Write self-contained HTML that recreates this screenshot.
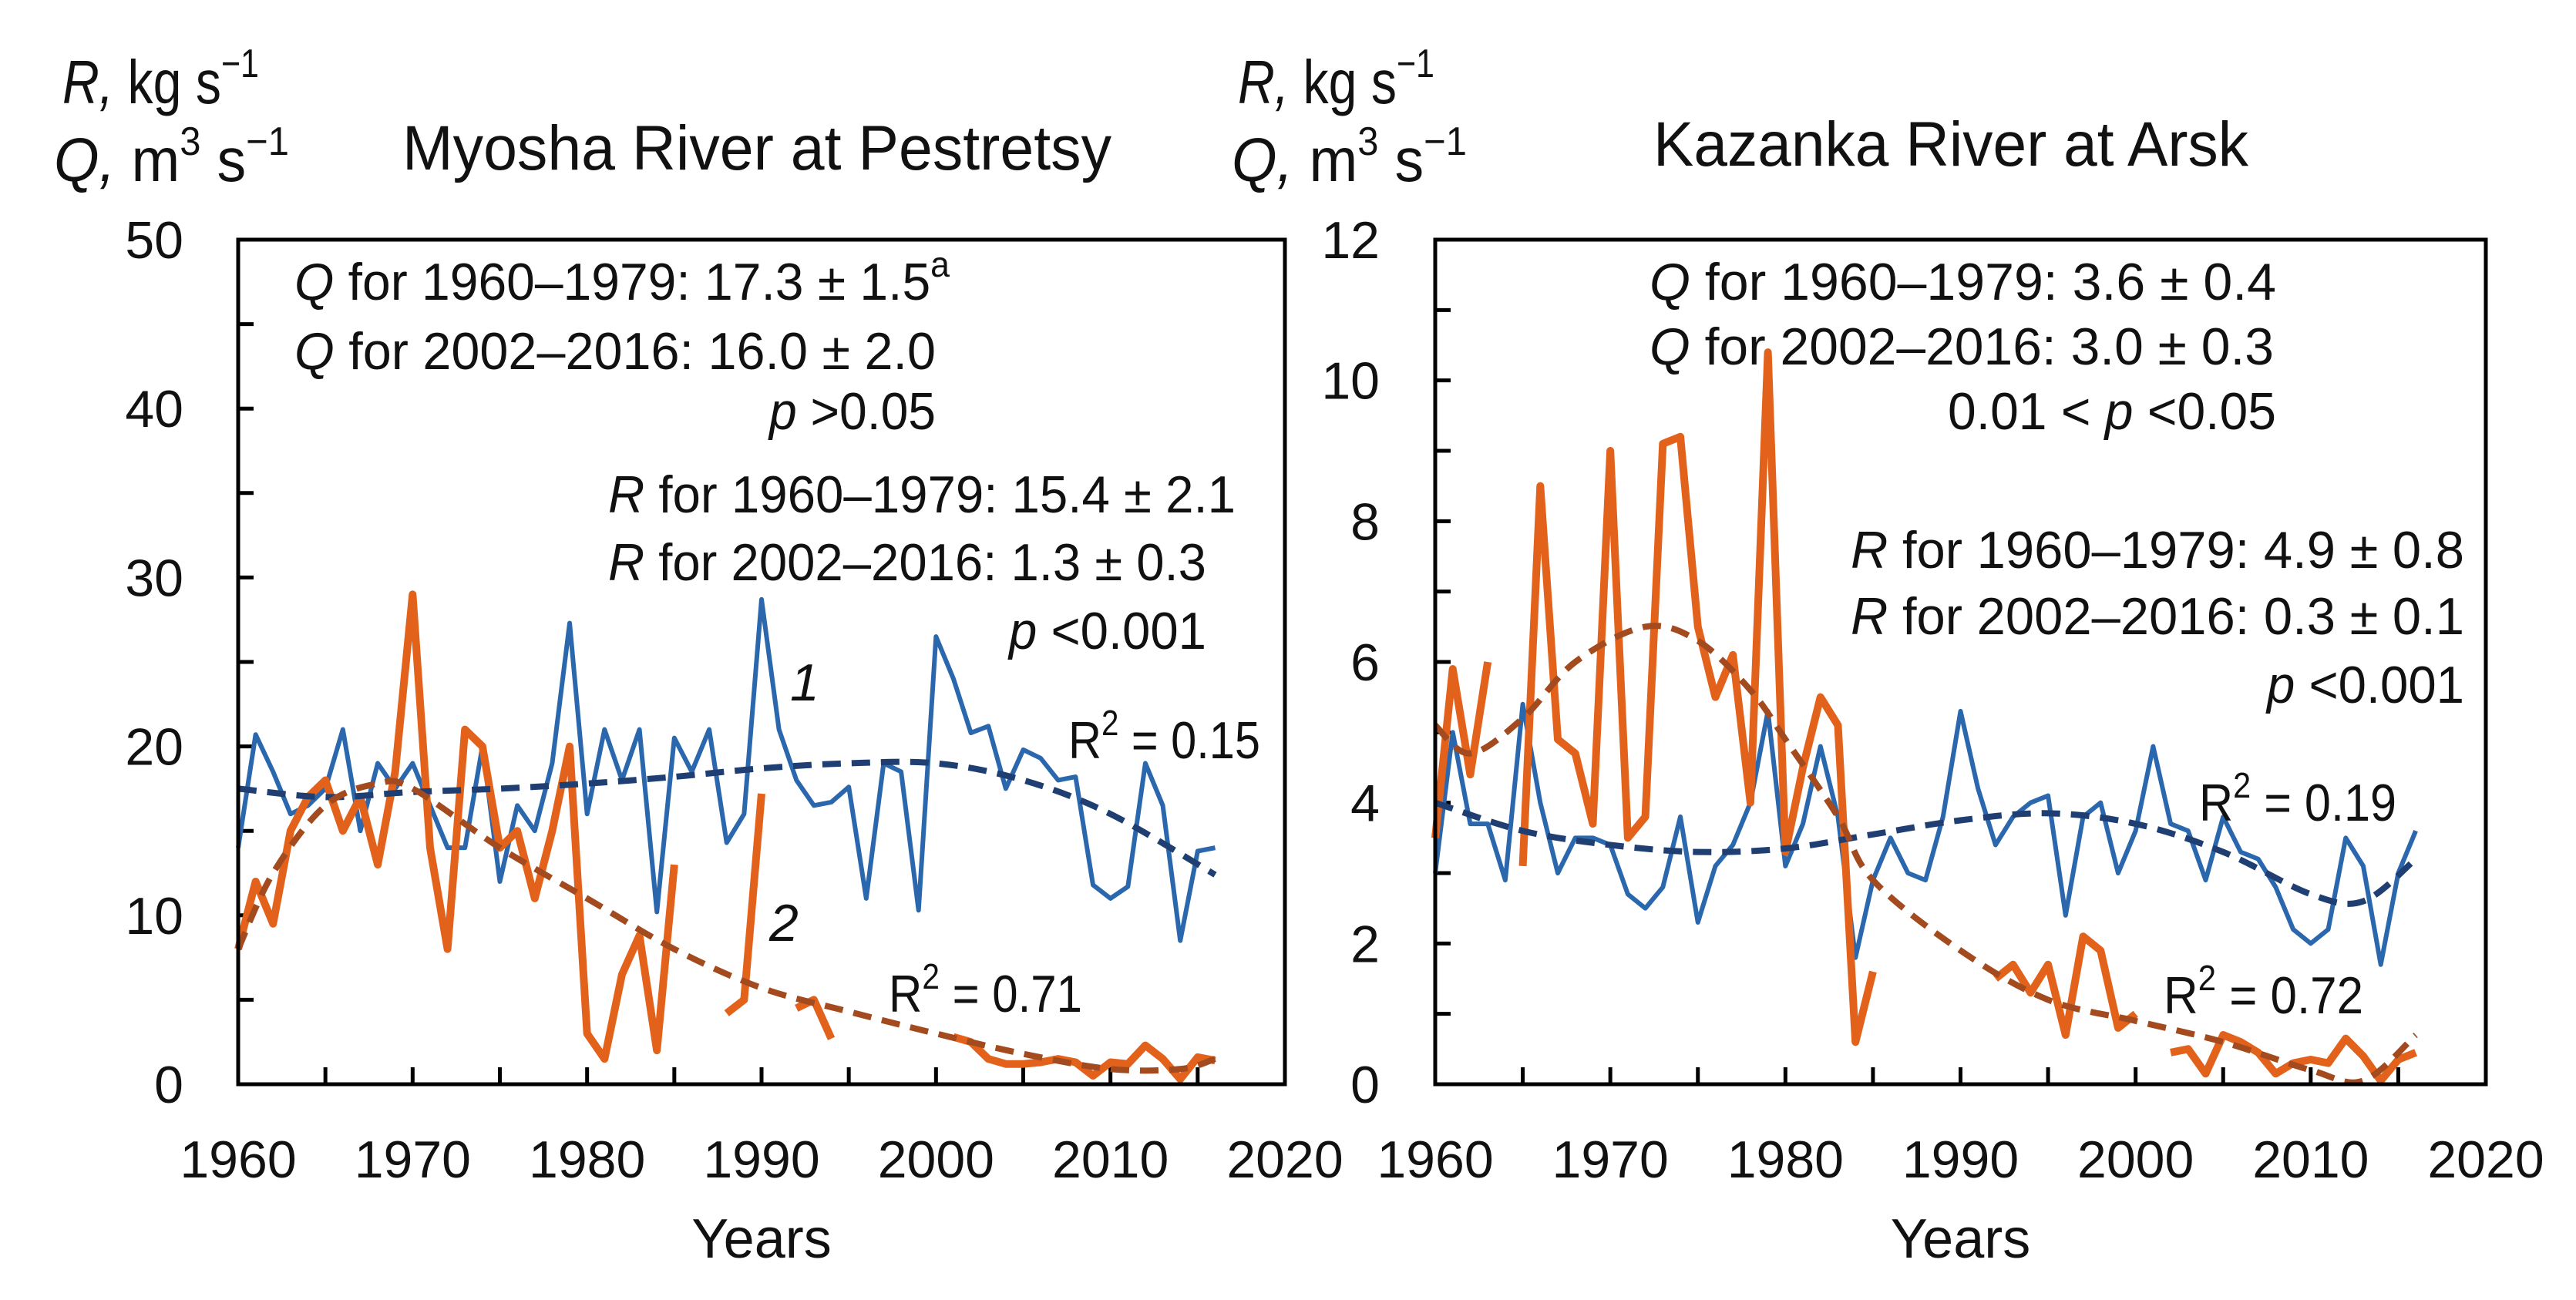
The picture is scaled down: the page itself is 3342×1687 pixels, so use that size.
<!DOCTYPE html>
<html><head><meta charset="utf-8"><style>
html,body{margin:0;padding:0;background:#fff}
svg{display:block}
text{font-family:"Liberation Sans",sans-serif;fill:#111}
</style></head><body>
<svg id="chart" width="3342" height="1687" viewBox="0 0 3342 1687" xmlns="http://www.w3.org/2000/svg">
<rect width="3342" height="1687" fill="#fff"/>
<g id="left"></g>
<g id="right"></g>
</svg>
<script>
// ---- data: Myosha River at Pestretsy ----
const years = [];
for (let y = 1960; y <= 2016; y++) years.push(y);
const myoshaQ = [14,20.7,18.5,16,16.5,17.5,21,15,19,17.5,19,16.5,14,14,20,12,16.5,15,19,27.3,16,21,18,21,10.2,20.5,18.5,21,14.3,16,28.7,21,18,16.5,16.7,17.6,11,19,18.5,10.3,26.5,24,20.8,21.2,17.5,19.8,19.3,18,18.2,11.8,11,11.7,19,16.5,8.5,13.8,14];
const myoshaRYears = [[1960,1961,1962,1963,1964,1965,1966,1967,1968,1969,1970,1971,1972,1973,1974,1975,1976,1977,1978,1979,1980,1981,1982,1983,1984,1985],[1988,1989,1990],[1992,1993,1994],[2001,2002,2003,2004,2005,2006,2007,2008,2009,2010,2011,2012,2013,2014,2015,2016]];
const myoshaR = [[8,12,9.5,15,17,18,15,17,13,18.5,29,14,8,21,20,14,15,11,15,20,3,1.5,6.5,8.8,2,13],[4.2,5,17.2],[4.5,5,2.7],[2.8,2.5,1.5,1.2,1.2,1.3,1.5,1.3,0.5,1.3,1.2,2.3,1.5,0.3,1.6,1.4]];
const myoshaTrendYears = [1960,1962,1965,1968,1970,1975,1980,1985,1990,1995,2000,2005,2010,2014,2016];
const myoshaRTrend = [8,12.5,16.5,17.8,17.5,14,11,8,5.7,4.3,3,1.8,0.9,0.9,1.5];
const myoshaQTrendYears = [1960,1965,1970,1975,1980,1985,1990,1995,2000,2005,2010,2016];
const myoshaQTrend = [17.5,17,17.3,17.5,17.8,18.2,18.7,19,19,18,16,12.4];
const leftYTicks = [0,10,20,30,40,50];
// ---- data: Kazanka River at Arsk ----
const kazankaQ = [3.0,5.0,3.7,3.7,2.9,5.4,4.0,3.0,3.5,3.5,3.4,2.7,2.5,2.8,3.8,2.3,3.1,3.4,4.0,5.3,3.1,3.7,4.8,3.8,1.8,2.9,3.5,3.0,2.9,3.8,5.3,4.2,3.4,3.8,4.0,4.1,2.4,3.8,4.0,3.0,3.6,4.8,3.7,3.6,2.9,3.8,3.3,3.2,2.8,2.2,2.0,2.2,3.5,3.1,1.7,3.0,3.6];
const kazankaRYears = [[1960,1961,1962,1963],[1965,1966,1967,1968,1969,1970,1971,1972,1973,1974,1975,1976,1977,1978,1979,1980,1981,1982,1983,1984,1985],[1992,1993,1994,1995,1996,1997,1998,1999,2000],[2002,2003,2004,2005,2006,2007,2008,2009,2010,2011,2012,2013,2014,2015,2016]];
const kazankaR = [[3.5,5.9,4.4,6.0],[3.1,8.5,4.9,4.7,3.7,9.0,3.5,3.8,9.1,9.2,6.5,5.5,6.1,4.0,10.4,3.3,4.5,5.5,5.1,0.6,1.6],[1.5,1.7,1.3,1.7,0.7,2.1,1.9,0.8,1.0],[0.45,0.5,0.15,0.7,0.6,0.45,0.15,0.3,0.35,0.3,0.65,0.4,0.05,0.35,0.45]];
const kazankaRTrendYears = [1960,1962,1965,1968,1972,1975,1978,1980,1983,1985,1990,1995,2000,2005,2010,2013,2016];
const kazankaRTrend = [5.1,4.7,5.2,6.0,6.5,6.3,5.6,4.9,3.8,2.9,1.9,1.2,0.9,0.6,0.2,0.05,0.7];
const kazankaQTrendYears = [1960,1965,1970,1975,1980,1985,1990,1995,2000,2005,2010,2013,2016];
const kazankaQTrend = [4.0,3.6,3.4,3.3,3.35,3.55,3.75,3.85,3.7,3.3,2.7,2.6,3.2];
const rightYTicks = [0,2,4,6,8,10,12];
const xTicks = [1960,1970,1980,1990,2000,2010,2020];

const NS = "http://www.w3.org/2000/svg";
function mk(parent, tag, attrs, txt) {
  const e = document.createElementNS(NS, tag);
  for (const k in attrs) e.setAttribute(k, attrs[k]);
  if (txt !== undefined) e.textContent = txt;
  parent.appendChild(e);
  return e;
}
function smooth(pts) {
  let d = "M" + pts[0][0] + "," + pts[0][1];
  for (let i = 0; i < pts.length - 1; i++) {
    const p0 = pts[i - 1] || pts[i], p1 = pts[i], p2 = pts[i + 1], p3 = pts[i + 2] || p2;
    const c1x = p1[0] + (p2[0] - p0[0]) / 6, c1y = p1[1] + (p2[1] - p0[1]) / 6;
    const c2x = p2[0] - (p3[0] - p1[0]) / 6, c2y = p2[1] - (p3[1] - p1[1]) / 6;
    d += " C" + c1x + "," + c1y + " " + c2x + "," + c2y + " " + p2[0] + "," + p2[1];
  }
  return d;
}

function panel(g, cfg) {
  const X0 = cfg.x0, X1 = cfg.x1, Y0 = 311, Y1 = 1407;
  const xs = yr => X0 + (yr - 1960) / 60 * (X1 - X0);
  const ys = v => Y1 - v / cfg.ymax * (Y1 - Y0);
  for (let yr = 1965; yr < 2020; yr += 5) {
    const t = mk(g, "line", {x1: xs(yr), x2: xs(yr), y1: Y1, y2: Y1 - 22, stroke: "#000", "stroke-width": 5});
    
    
  }
  const step = cfg.yTicks[1] - cfg.yTicks[0];
  for (let v = step / 2; v < cfg.ymax; v += step / 2) {
    const t = mk(g, "line", {x1: X0, x2: X0 + 20, y1: ys(v), y2: ys(v), stroke: "#000", "stroke-width": 5});
    
    
  }
  cfg.yTicks.forEach(v => {
    const t = mk(g, "text", {x: cfg.ylabX, y: ys(v) + 24, "text-anchor": "end", "font-size": 68}, String(v));
    
    
  });
  xTicks.forEach(yr => {
    const t = mk(g, "text", {x: xs(yr), y: 1528, "text-anchor": "middle", "font-size": 68}, String(yr));
    
    
  });
  const xt = mk(g, "text", {x: (X0 + X1) / 2, y: 1632, "text-anchor": "middle", "font-size": 72}, "Years");
  
  

  const qd = years.map((yr, i) => (i ? "L" : "M") + xs(yr) + "," + ys(cfg.q[i])).join(" ");
  const qp = mk(g, "path", {d: qd, fill: "none", stroke: "#2b67ad", "stroke-width": 6, "stroke-linejoin": "round"});
  
  
  cfg.rYears.forEach((seg, s) => {
    const d = seg.map((yr, i) => (i ? "L" : "M") + xs(yr) + "," + ys(cfg.r[s][i])).join(" ");
    const p = mk(g, "path", {d: d, fill: "none", stroke: "#e2621b", "stroke-width": 10, "stroke-linejoin": "round"});
    
    
  });
  const qt = mk(g, "path", {d: smooth(cfg.qtY.map((yr, i) => [xs(yr), ys(cfg.qt[i])])), fill: "none", stroke: "#1f3f73", "stroke-width": 8, "stroke-dasharray": "24,14"});
  
  
  const rt = mk(g, "path", {d: smooth(cfg.rtY.map((yr, i) => [xs(yr), ys(cfg.rt[i])])), fill: "none", stroke: "#a34a1f", "stroke-width": 8, "stroke-dasharray": "24,14"});
  
  
  const fr = mk(g, "rect", {x: X0, y: Y0, width: X1 - X0, height: Y1 - Y0, fill: "none", stroke: "#000", "stroke-width": 5});
  
  
}

const L = document.getElementById("left"), R = document.getElementById("right");
panel(L, {x0: 309, x1: 1667, ymax: 50, yTicks: leftYTicks, ylabX: 238, q: myoshaQ, rYears: myoshaRYears, r: myoshaR, qtY: myoshaQTrendYears, qt: myoshaQTrend, rtY: myoshaTrendYears, rt: myoshaRTrend});
panel(R, {x0: 1862, x1: 3225, ymax: 12, yTicks: rightYTicks, ylabX: 1790, q: kazankaQ, rYears: kazankaRYears, r: kazankaR, qtY: kazankaQTrendYears, qt: kazankaQTrend, rtY: kazankaRTrendYears, rt: kazankaRTrend});

function label(g, name, x, y, html, size, len, anchor) {
  const t = mk(g, "text", {x: x, y: y, "font-size": size, "text-anchor": anchor || "start"});
  t.innerHTML = html;
  if (len) { t.setAttribute("textLength", len); t.setAttribute("lengthAdjust", "spacingAndGlyphs"); }
  
  
  return t;
}
const sup = s => '<tspan dy="-30" font-size="46">' + s + '</tspan><tspan dy="30"> </tspan>';
const supEnd = s => '<tspan dy="-30" font-size="46">' + s + '</tspan>';
const sup2 = s => '<tspan dy="-34" font-size="52">' + s + '</tspan><tspan dy="34"> </tspan>';
const supEnd2 = s => '<tspan dy="-34" font-size="52">' + s + '</tspan>';
const A = 68;
// Left annotations
label(L, "y-axis-title-r", 81, 134, '<tspan font-style="italic">R,</tspan> kg s' + supEnd2('−1'), 80, 255);
label(L, "y-axis-title-q", 70, 235, '<tspan font-style="italic">Q,</tspan> m' + sup2('3') + 's' + supEnd2('−1'), 80, 305);
label(L, "chart-title", 522, 220, 'Myosha River at Pestretsy', 82, 920);
label(L, "q-stat-1960", 382, 389, '<tspan font-style="italic">Q</tspan> for 1960–1979: 17.3 ± 1.5' + supEnd('a'), A, 850);
label(L, "q-stat-2002", 382, 479, '<tspan font-style="italic">Q</tspan> for 2002–2016: 16.0 ± 2.0', A, 832);
label(L, "q-p-value", 1214, 557, '<tspan font-style="italic">p</tspan> &gt;0.05', A, 216, "end");
label(L, "r-stat-1960", 789, 665, '<tspan font-style="italic">R</tspan> for 1960–1979: 15.4 ± 2.1', A, 814);
label(L, "r-stat-2002", 789, 753, '<tspan font-style="italic">R</tspan> for 2002–2016: 1.3 ± 0.3', A, 776);
label(L, "r-p-value", 1565, 842, '<tspan font-style="italic">p</tspan> &lt;0.001', A, 256, "end");
label(L, "series-label-1", 1025, 909, '1', 68, null);
L.lastChild.setAttribute("font-style", "italic"); L.lastChild.setAttribute("font-family", "Liberation Serif");
label(L, "series-label-2", 998, 1221, '2', 68, null);
L.lastChild.setAttribute("font-style", "italic"); L.lastChild.setAttribute("font-family", "Liberation Serif");
label(L, "q-r-squared", 1386, 984, 'R' + sup('2') + '= 0.15', A, 249);
label(L, "r-r-squared", 1153, 1313, 'R' + sup('2') + '= 0.71', A, 251);
// Right annotations
label(R, "y-axis-title-r", 1606, 134, '<tspan font-style="italic">R,</tspan> kg s' + supEnd2('−1'), 80, 255);
label(R, "y-axis-title-q", 1598, 235, '<tspan font-style="italic">Q,</tspan> m' + sup2('3') + 's' + supEnd2('−1'), 80, 305);
label(R, "chart-title", 2145, 215, 'Kazanka River at Arsk', 82, 772);
label(R, "q-stat-1960", 2140, 389, '<tspan font-style="italic">Q</tspan> for 1960–1979: 3.6 ± 0.4', A, 813);
label(R, "q-stat-2002", 2140, 473, '<tspan font-style="italic">Q</tspan> for 2002–2016: 3.0 ± 0.3', A, 810);
label(R, "q-p-value", 2953, 557, '0.01 &lt; <tspan font-style="italic">p</tspan> &lt;0.05', A, 426, "end");
label(R, "r-stat-1960", 2401, 737, '<tspan font-style="italic">R</tspan> for 1960–1979: 4.9 ± 0.8', A, 796);
label(R, "r-stat-2002", 2401, 823, '<tspan font-style="italic">R</tspan> for 2002–2016: 0.3 ± 0.1', A, 796);
label(R, "r-p-value", 3197, 912, '<tspan font-style="italic">p</tspan> &lt;0.001', A, 256, "end");
label(R, "q-r-squared", 2853, 1065, 'R' + sup('2') + '= 0.19', A, 256);
label(R, "r-r-squared", 2807, 1315, 'R' + sup('2') + '= 0.72', A, 259);
</script>
</body></html>
